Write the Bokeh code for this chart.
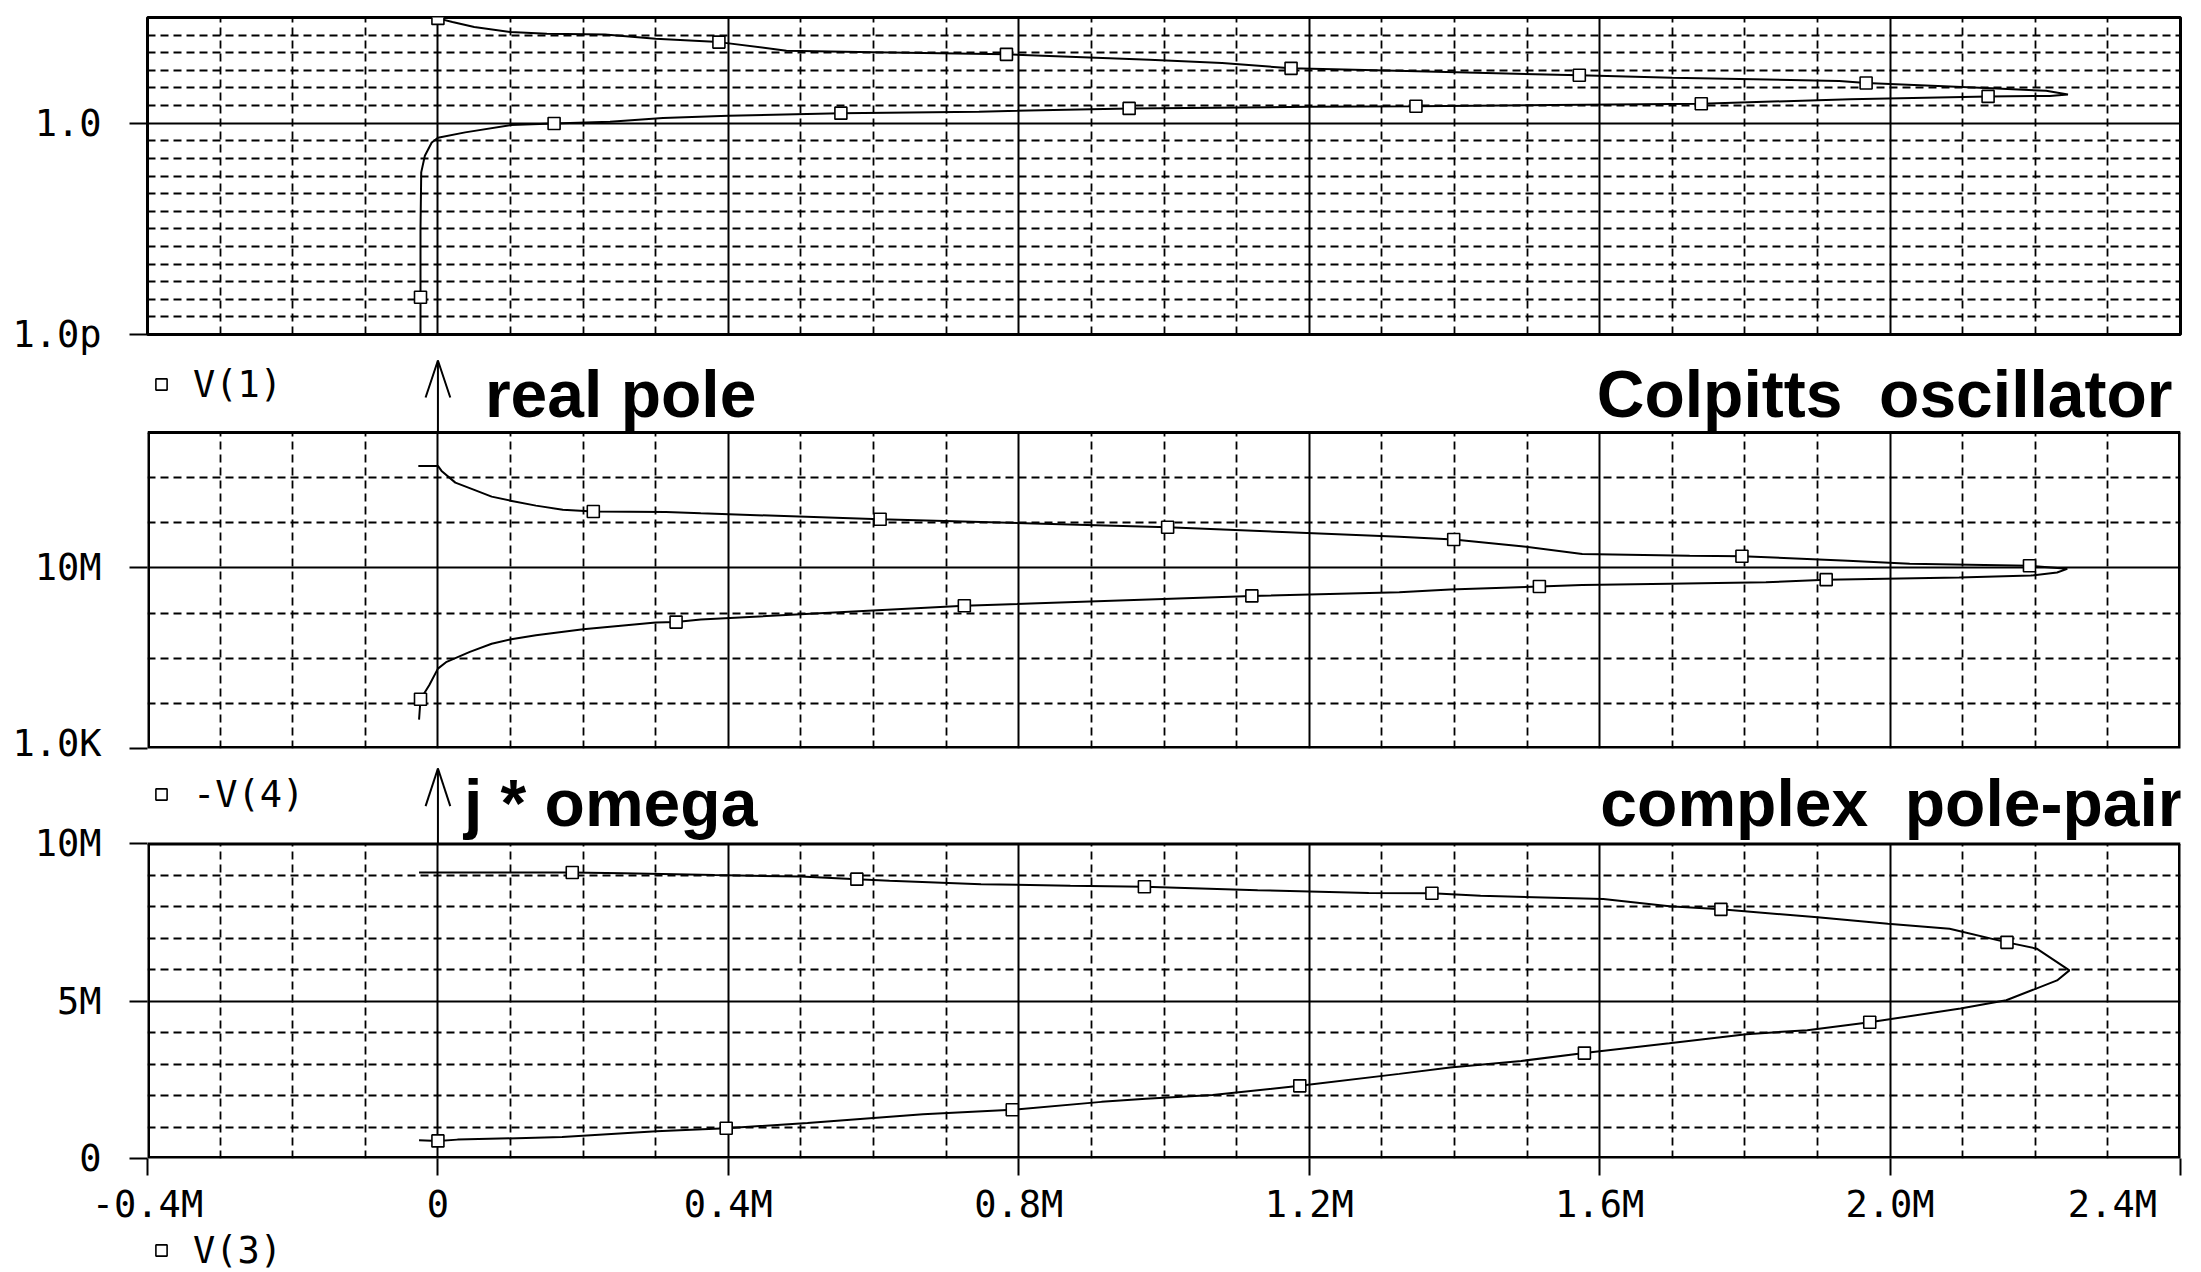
from bokeh.plotting import figure
from bokeh.layouts import column
from bokeh.models import (Range1d, FixedTicker, Grid, Label, Legend, LegendItem)
from bokeh.core.properties import value
from bokeh.embed import file_html
from bokeh.resources import INLINE

M = 1e6
NAN = float("nan")
NBSP = "\u00a0"

# ---------------- shared x axis (V(3)), in M ----------------
x_ticks = [-0.4, 0.0, 0.4, 0.8, 1.2, 1.6, 2.0, 2.4]
x_tick_labels = ["-0.4M", "0", "0.4M", "0.8M", "1.2M", "1.6M", "2.0M", "2.4M"]

# ---------------- top panel: V(1)  (real pole, log) ----------------
v1_ticks = [1e-12, 1.0]
v1_tick_labels = ["1.0p", "1.0"]
v1_x = [0.0, 0.02, 0.05, 0.10, 0.15, 0.23, 0.30, 0.387, 0.48, 0.60, 0.783, 0.98,
        1.08, 1.175, 1.32, 1.572, 1.70, 1.93, 1.967, 2.14, 2.215, 2.245,
        2.22, 2.135, 1.945, 1.740, 1.43, 1.347, 1.20, 0.952, 0.745, 0.555, 0.40,
        0.31, 0.237, 0.160, 0.10, 0.0375, 0.0, -0.0085, -0.018, -0.023, -0.024,
        -0.024, -0.024]
v1_y = [8.9e5, 5.6e5, 2.9e5, 1.5e5, 1.2e5, 1.1e5, 6.2e4, 4.0e4, 1.3e4, 1.07e4,
        8.1e3, 4.0e3, 2.6e3, 1.3e3, 955, 525, 380, 250, 190, 95, 69, 42,
        35, 33, 23, 12.6, 9.8, 9.1, 8.5, 6.9, 4.5, 3.7, 2.6, 1.95, 1.2, 0.95,
        0.78, 0.30, 0.15, 0.079, 0.014, 1.6e-3, 1.0e-6, 1.3e-10, 6.0e-13]
v1_mx = [0.0, 0.387, 0.783, 1.175, 1.572, 1.967, 2.135, 1.740, 1.347, 0.952,
         0.555, 0.160, -0.024]
v1_my = [8.9e5, 4.0e4, 8.1e3, 1.3e3, 525, 190, 33, 12.6, 9.1, 6.9, 3.7, 0.95,
         1.3e-10]

# ---------------- middle panel: -V(4)  (log) ----------------
v4_ticks = [1e3, 1e7]
v4_tick_labels = ["1.0K", "10M"]
v4_x = [-0.027, 0.0, 0.005, 0.024, 0.05, 0.074, 0.10, 0.135, 0.172, 0.214,
        0.314, 0.362, 0.609, 1.005, 1.324, 1.399, 1.492, 1.576, 1.724, 1.796,
        1.942, 2.027, 2.192, 2.244, 2.23, 2.194, 2.095, 1.912, 1.829, 1.696,
        1.576, 1.517, 1.394, 1.324, 1.121, 0.725, 0.362, 0.328, 0.30, 0.20,
        0.135, 0.101, 0.074, 0.044, 0.012, 0.0, -0.012, -0.024, -0.026]
v4_y = [1.82e9, 1.82e9, 1.41e9, 7.76e8, 5.37e8, 3.80e8, 3.09e8, 2.40e8, 1.95e8,
        1.78e8, 1.74e8, 1.62e8, 1.20e8, 7.94e7, 4.90e7, 4.27e7, 3.02e7, 2.04e7,
        1.86e7, 1.82e7, 1.45e7, 1.23e7, 1.12e7, 9.55e6, 7.94e6, 6.76e6, 6.17e6,
        5.50e6, 4.79e6, 4.47e6, 4.17e6, 3.89e6, 3.31e6, 2.88e6, 2.40e6, 1.45e6,
        7.24e5, 6.31e5, 6.17e5, 4.37e5, 3.24e5, 2.63e5, 2.09e5, 1.38e5, 8.32e4,
        5.89e4, 2.51e4, 1.23e4, 4.37e3]
v4_mx = [0.214, 0.609, 1.005, 1.399, 1.796, 2.192, 1.912, 1.517, 1.121, 0.725,
         0.328, -0.024]
v4_my = [1.78e8, 1.20e8, 7.94e7, 4.27e7, 1.82e7, 1.12e7, 5.50e6, 3.89e6, 2.40e6,
         1.45e6, 6.31e5, 1.23e4]

# ---------------- bottom panel: V(3) j*omega (linear, in M) ----------------
v3_ticks = [0.0, 5.0, 10.0]
v3_tick_labels = ["0", "5M", "10M"]
v3_x = [-0.026, 0.185, 0.255, 0.381, 0.50, 0.577, 0.622, 0.748, 0.871, 0.973,
        1.129, 1.282, 1.369, 1.436, 1.605, 1.696, 1.767, 1.900, 1.997, 2.082,
        2.161, 2.202, 2.247, 2.23, 2.160, 2.097, 1.972, 1.886, 1.802, 1.696,
        1.579, 1.492, 1.394, 1.324, 1.187, 1.067, 0.975, 0.914, 0.791, 0.668,
        0.509, 0.397, 0.301, 0.171, 0.027, 0.0, -0.026]
v3_y = [9.09, 9.09, 9.07, 9.01, 8.96, 8.88, 8.83, 8.72, 8.67, 8.64, 8.53, 8.44,
        8.43, 8.35, 8.25, 8.02, 7.92, 7.67, 7.46, 7.30, 6.87, 6.67, 5.98, 5.66,
        5.03, 4.77, 4.33, 4.08, 3.95, 3.66, 3.35, 3.10, 2.89, 2.69, 2.31, 2.02,
        1.90, 1.80, 1.55, 1.41, 1.13, 0.96, 0.87, 0.68, 0.60, 0.56, 0.58]
v3_mx = [0.185, 0.577, 0.973, 1.369, 1.767, 2.161, 1.972, 1.579, 1.187, 0.791,
         0.397, 0.0]
v3_my = [9.09, 8.88, 8.64, 8.43, 7.92, 6.87, 4.33, 3.35, 2.31, 1.55, 0.96, 0.56]

# captions / legends
legend_labels = ["V(1)", "-V(4)", "V(3)"]
captions_left = ["real pole", "j * omega"]
captions_right = ["Colpitts" + NBSP + " oscillator", "complex" + NBSP + " pole-pair"]

# ---------------- layout / style ----------------
W = 2201
FL, FR = 147, 21
MONO = "DejaVu Sans Mono"
SANS = "Liberation Sans"
TICK_FS = "37px"
TITLE_FS = "66px"
HAS_CB = "cross_bounds" in Grid.properties()

X0, X1 = -0.4 * M, 2.4 * M
xr = Range1d(X0, X1)
x_dash = [k * 1e5 for k in range(-3, 24) if k % 4 != 0]
x_solid = [k * 4e5 for k in range(0, 6)]


def mk(height, yr, log, top, bottom, xaxis, outline=True, yaxis=True):
    p = figure(width=W, height=height, x_range=xr, y_range=yr,
               y_axis_type="log" if log else "linear",
               x_axis_location="below" if xaxis else None,
               y_axis_location="left" if yaxis else None,
               toolbar_location=None, output_backend="svg",
               min_border_left=FL, min_border_right=FR,
               min_border_top=top, min_border_bottom=bottom)
    p.outline_line_color = "black" if outline else None
    p.outline_line_width = 3
    p.background_fill_color = "white"
    p.border_fill_color = "white"
    p.grid.visible = False
    return p


def style_axis(ax, ticks, labels, standoff, tick_out=18):
    ax.ticker = FixedTicker(ticks=ticks)
    ax.major_label_overrides = {t: l for t, l in zip(ticks, labels)}
    ax.axis_line_color = None
    ax.major_tick_in = 0
    ax.major_tick_out = tick_out
    ax.major_tick_line_width = 2
    ax.major_tick_line_color = "black"
    ax.minor_tick_line_color = None
    ax.major_label_standoff = standoff
    ax.major_label_text_font = MONO
    ax.major_label_text_font_size = TICK_FS
    ax.major_label_text_color = "black"


def grids(p, y_dash, y_solid, ybox=None):
    for dim, t, dash, lw in [(0, x_dash, "8 5", 1.8), (1, y_dash, "8 5", 1.8),
                             (0, x_solid, "solid", 2), (1, y_solid, "solid", 2)]:
        g = Grid(dimension=dim, ticker=FixedTicker(ticks=t),
                 grid_line_color="black", grid_line_dash=dash, grid_line_width=lw)
        if dim == 0 and ybox is not None and HAS_CB:
            g.cross_bounds = ybox
        p.add_layout(g)
    if ybox is not None and not HAS_CB:
        p.quad(left=[X0 - M], right=[X1 + M], bottom=[ybox[1]], top=[ybox[1] * 1e6],
               fill_color="white", line_color=None)


def box(p, ylo, yhi):
    # plot-box border drawn in data space (the frame extends above the box)
    p.line([X0, X0, X1, X1], [yhi, ylo, ylo, yhi], line_color="black", line_width=5)
    p.line([X0, X1], [yhi, yhi], line_color="black", line_width=3)


def trace(p, xs, ys, mxs, mys, yscale=1.0):
    p.line([v * M for v in xs], [v * yscale for v in ys], line_color="black",
           line_width=2)
    return p.scatter([v * M for v in mxs], [v * yscale for v in mys],
                     marker="square", size=12, fill_color="white",
                     line_color="black", line_width=1.6)


def legend(p, label, y_bottom):
    # legend sample glyph (the trace itself lives in the panel above)
    r = p.scatter([NAN], [NAN], marker="square", size=12, fill_color="white",
                  line_color="black", line_width=1.6)
    p.add_layout(Legend(items=[LegendItem(label=value(label), renderers=[r])],
                        location=(0, y_bottom), padding=0, margin=0, spacing=0,
                        glyph_width=28, glyph_height=44, label_height=44,
                        label_standoff=18, label_text_font=MONO,
                        label_text_font_size=TICK_FS, label_text_color="black",
                        border_line_color=None, background_fill_alpha=0))


def title(p, text, x, xoff, y, align):
    p.add_layout(Label(x=x, y=y, x_units="data", y_units="screen", x_offset=xoff,
                       text=text, text_align=align, text_baseline="middle",
                       text_font=SANS, text_font_style="bold",
                       text_font_size=TITLE_FS, text_color="black"))


def axis_arrow(p, ybase, ytip, ywing, half_w):
    p.segment(x0=[0, 0, 0], y0=[ybase, ytip, ytip], x1=[0, -half_w, half_w],
              y1=[ytip, ywing, ywing], line_color="black", line_width=2)


HALF_W = 17000
TITLE_DY = 39          # caption centre above the plot box

# ---- top (frame = plot box) ----
pA = mk(356, Range1d(1e-12, 1e6), True, 17, 22, False)
style_axis(pA.yaxis[0], v1_ticks, v1_tick_labels, 28)
grids(pA, [10.0 ** k for k in range(-11, 6) if k != 0], [1.0])
trace(pA, v1_x, v1_y, v1_mx, v1_my)

# ---- middle (frame extends 76 px above the box for the caption strip) ----
B_BOX, B_FRAME = 316, 392
B_DEC = B_BOX / 7.0                      # pixels per decade
pB = mk(408, Range1d(1e3, 10 ** (3 + 7.0 * B_FRAME / B_BOX)), True, 0, 16, False,
        outline=False)
style_axis(pB.yaxis[0], v4_ticks, v4_tick_labels, 28)
grids(pB, [1e4, 1e5, 1e6, 1e8, 1e9], [1e7], ybox=(1e3, 1e10))
box(pB, 1e3, 1e10)
trace(pB, v4_x, v4_y, v4_mx, v4_my)
axis_arrow(pB, 1e10, 10 ** (10 + 72 / B_DEC), 10 ** (10 + 35 / B_DEC), HALF_W)
legend(pB, legend_labels[0], B_BOX + 48 - 22)
title(pB, captions_left[0], 0.0, 47, B_BOX + TITLE_DY, "left")
title(pB, captions_right[0], X1, -8, B_BOX + TITLE_DY, "right")

# ---- bottom (frame extends 80 px above the box) ----
C_BOX, C_FRAME = 317, 397
C_PX = 10 * M / C_BOX                    # data units per pixel
pC = mk(464, Range1d(0, 10 * M * C_FRAME / C_BOX), False, 0, 67, True,
        outline=False)
style_axis(pC.yaxis[0], [v * M for v in v3_ticks], v3_tick_labels, 28)
xa = pC.xaxis[0]
style_axis(xa, [v * M for v in x_ticks],
           x_tick_labels[:-1] + [x_tick_labels[-1] + NBSP * 2], 7, tick_out=17)
grids(pC, [k * M for k in (1, 2, 3, 4, 6, 7, 8, 9)], [5 * M], ybox=(0, 10 * M))
box(pC, 0, 10 * M)
trace(pC, v3_x, v3_y, v3_mx, v3_my, M)
axis_arrow(pC, 10 * M, 10 * M + 76 * C_PX, 10 * M + 38 * C_PX, HALF_W)
legend(pC, legend_labels[1], C_BOX + 47 - 22)
title(pC, captions_left[1], 0.0, 26, C_BOX + TITLE_DY, "left")
title(pC, captions_right[1], X1, 3, C_BOX + TITLE_DY, "right")

# ---- legend strip under the x axis ----
pD = mk(44, Range1d(0, 1), False, 0, 0, False, outline=False, yaxis=False)
legend(pD, legend_labels[2], 0)

layout = column(pA, pB, pC, pD, spacing=0)
open("out.html", "w").write(file_html(layout, INLINE))
